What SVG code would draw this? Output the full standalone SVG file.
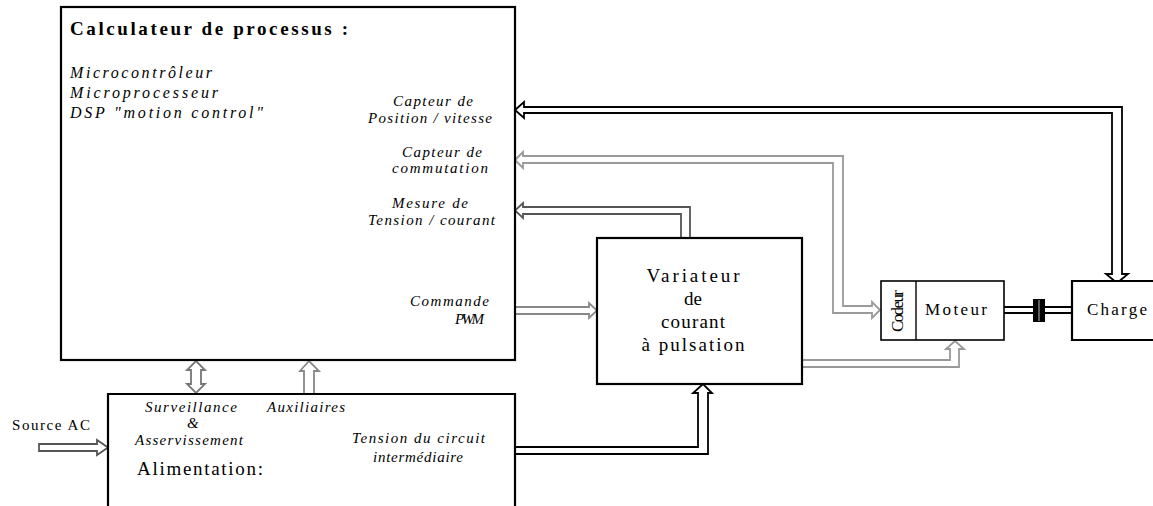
<svg xmlns="http://www.w3.org/2000/svg" width="1153" height="506" viewBox="0 0 1153 506">
<style>
text{font-family:'Liberation Serif','Times New Roman','DejaVu Serif',serif;fill:#000}
.box{fill:#fff;stroke:#000;stroke-width:2.2}
.thin{fill:#fff;stroke:#000;stroke-width:1.6}
.ti{font-style:italic;font-size:15px}
.it{font-style:italic;font-size:16px}
.rm{font-size:19px}
.sm{font-size:17px}
.arr{fill:#fff;stroke-width:1.8;stroke-linejoin:miter}
</style>
<rect width="1153" height="506" fill="#fff"/>
<g id="connectors">
  <path class="arr" stroke="#000" stroke-width="2" d="M515,110 L524,102 L524,107 L1122,107 L1122,274 L1128,274 L1117,283 L1106,274 L1112,274 L1112,113 L524,113 L524,118 Z"/>
  <path class="arr" stroke="#9a9a9a" d="M515,160 L523,152 L523,156 L843,156 L843,306 L872,306 L872,302 L880,310 L872,318 L872,313 L833,313 L833,163 L523,163 L523,168 Z"/>
  <path class="arr" stroke="#555" d="M681,238 L681,214 L523,214 L523,218 L515,210.5 L523,203 L523,207 L690,207 L690,238"/>
  <path class="arr" stroke="#888" d="M515,307 L589,307 L589,303 L597,310.5 L589,318 L589,314 L515,314"/>
  <path class="arr" stroke="#999" d="M803,360 L950,360 L950,349 L946,349 L955,341 L964,349 L959,349 L959,367 L803,367"/>
  <path class="arr" stroke="#000" stroke-width="2.2" d="M515,447 L698,447 L698,393 L693,393 L703,384 L712,393 L708,393 L708,454 L515,454"/>
  <path class="arr" stroke="#777" d="M196,361 L205,370 L201,370 L201,384 L205,384 L196,393 L187,384 L191,384 L191,370 L187,370 Z"/>
  <path class="arr" stroke="#888" d="M304,393 L304,371 L300,371 L309,361 L319,371 L314,371 L314,393"/>
  <path class="arr" stroke="#555" d="M39,444 L97,444 L97,440 L108,447.5 L97,455 L97,451 L39,451 Z"/>
  <line x1="1004" y1="307" x2="1072" y2="307" stroke="#000" stroke-width="2"/>
  <line x1="1004" y1="313" x2="1072" y2="313" stroke="#000" stroke-width="2"/>
  <rect x="1033" y="299" width="12" height="23" fill="#000"/>
  <line x1="1039" y1="300" x2="1039" y2="321" stroke="#bbb" stroke-width="1"/>
</g>
<g id="calculateur">
  <rect class="box" x="61" y="7" width="454" height="353"/>
  <text x="70" y="35" font-weight="bold" font-size="19" textLength="278">Calculateur de processus :</text>
  <text class="it" x="70" y="78" textLength="142">Microcontrôleur</text>
  <text class="it" x="70" y="98" textLength="148">Microprocesseur</text>
  <text class="it" x="70" y="118" textLength="193">DSP "motion control"</text>
  <text class="ti" x="393" y="106" textLength="80">Capteur de</text>
  <text class="ti" x="368" y="123" textLength="124">Position / vitesse</text>
  <text class="ti" x="402" y="157" textLength="80">Capteur de</text>
  <text class="ti" x="392" y="173" textLength="96">commutation</text>
  <text class="ti" x="392" y="208" textLength="76">Mesure de</text>
  <text class="ti" x="368" y="225" textLength="127">Tension / courant</text>
  <text class="ti" x="410" y="306" textLength="79">Commande</text>
  <text class="ti" x="455" y="324" textLength="29">PWM</text>
</g>
<g id="alimentation">
  <path class="box" d="M108,510 L108,394 L515,394 L515,510"/>
  <text class="ti" x="145" y="412" textLength="92">Surveillance</text>
  <text class="ti" x="187" y="428">&amp;</text>
  <text class="ti" x="135" y="445" textLength="108">Asservissement</text>
  <text class="ti" x="267" y="412" textLength="78">Auxiliaires</text>
  <text class="ti" x="352" y="443" textLength="133">Tension du circuit</text>
  <text class="ti" x="373" y="462" textLength="90">intermédiaire</text>
  <text class="rm" x="137" y="475" textLength="126">Alimentation:</text>
</g>
<g id="source">
  <text x="12" y="430" font-size="15" textLength="78">Source AC</text>
</g>
<g id="variateur">
  <rect class="box" x="597" y="238" width="205" height="146" stroke-width="2.6"/>
  <text class="rm" x="693" y="282" text-anchor="middle" textLength="93">Variateur</text>
  <text class="rm" x="693" y="305" text-anchor="middle">de</text>
  <text class="rm" x="693" y="328" text-anchor="middle" textLength="64">courant</text>
  <text class="rm" x="693" y="351" text-anchor="middle" textLength="103">à pulsation</text>
</g>
<g id="moteur">
  <rect class="thin" x="881" y="281" width="123" height="59" stroke-width="2"/>
  <line x1="916" y1="281" x2="916" y2="340" stroke="#000" stroke-width="1.4"/>
  <text class="sm" transform="translate(903,332) rotate(-90)" font-size="15" textLength="42">Codeur</text>
  <text class="sm" x="925" y="315" textLength="62">Moteur</text>
</g>
<g id="charge">
  <path class="box" d="M1160,281 L1072,281 L1072,340 L1160,340" stroke-width="2"/>
  <text class="sm" x="1087" y="315" textLength="60">Charge</text>
</g>
</svg>
